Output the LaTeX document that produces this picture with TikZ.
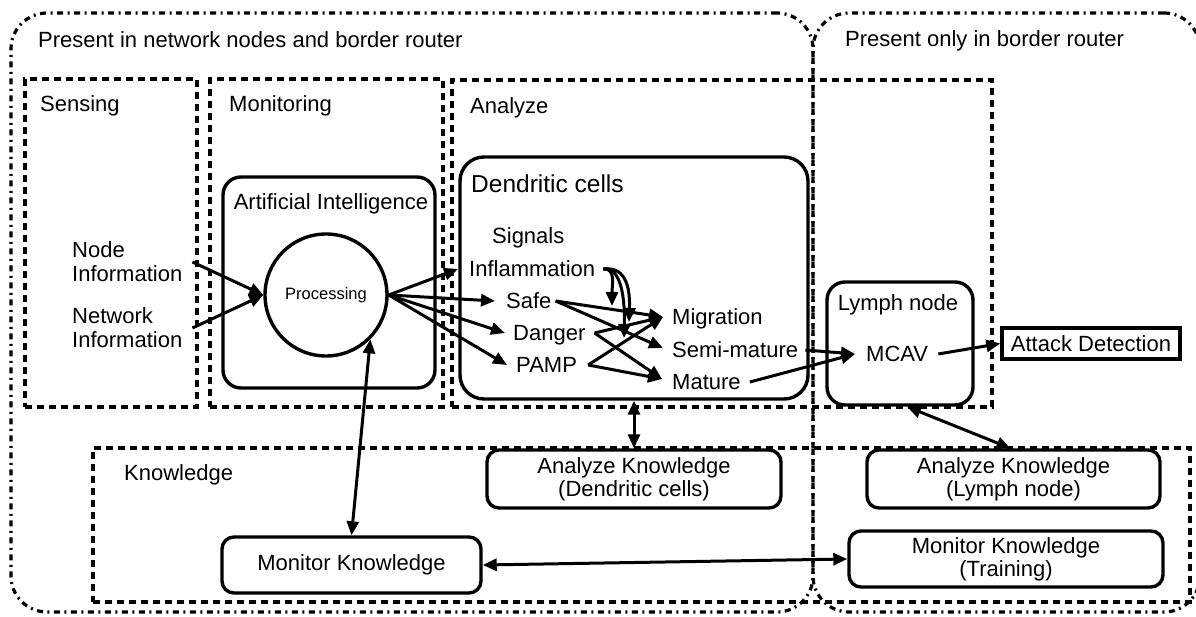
\documentclass[tikz,border=0pt]{standalone}
\usepackage{fontspec}
\setmainfont{Liberation Sans}
\usetikzlibrary{arrows.meta}
\newcommand\basefs{\fontsize{22}{24}\selectfont}
\newcommand\kfs{\fontsize{22}{23}\selectfont}
\begin{document}
\begin{tikzpicture}[x=1pt,y=-1pt,
  region/.style={draw, line width=3.2pt, dash pattern=on 6pt off 4.5pt on 2pt off 4.5pt, rounded corners=36pt, inner sep=0},
  dbox/.style={draw, line width=3.4pt, dash pattern=on 7pt off 5pt, inner sep=0},
  sbox/.style={draw, line width=3.4pt, rounded corners=18pt, inner sep=0},
  kbox/.style={draw, line width=3.4pt, rounded corners=12pt, align=center, inner sep=0, font=\kfs},
  lab/.style={inner sep=0, font=\basefs, text height=15.8pt, text depth=0pt},
  mlab/.style={inner sep=0, font=\basefs, align=left},
  arr/.style={line width=3pt, -{Triangle[length=14pt,width=12pt]}},
  darr/.style={line width=3pt, {Triangle[length=14pt,width=12pt]}-{Triangle[length=14pt,width=12pt]}},
]
\path[use as bounding box] (0,0) rectangle (1196,617);
% regions
\node[region, minimum width=802pt, minimum height=599pt] (reg1) at (412,312.5) {};
\node[region, minimum width=387pt, minimum height=599pt] (reg2) at (1006.5,312.5) {};
\node[lab, anchor=west] (reg1lab) at (38,40) {Present in network nodes and border router};
\node[lab, anchor=west] (reg2lab) at (845,39) {Present only in border router};
% dashed boxes
\node[dbox, minimum width=172pt, minimum height=328pt] (sens) at (111,243) {};
\node[dbox, minimum width=233pt, minimum height=328pt] (moni) at (326.5,243) {};
\node[dbox, minimum width=540pt, minimum height=327pt] (anal) at (722,243.5) {};
\node[dbox, minimum width=1097pt, minimum height=154pt] (know) at (641.5,525) {};
\node[lab, anchor=west] (senslab) at (40,104) {Sensing};
\node[lab, anchor=west] (monilab) at (229,104) {Monitoring};
\node[lab, anchor=west] (anallab) at (470,106) {Analyze};
\node[lab, anchor=west] (knowlab) at (124,473) {Knowledge};
% sensing
\node[mlab, anchor=west] (ninfo) at (72,262) {Node\\Information};
\node[mlab, anchor=west] (netinfo) at (72,328) {Network\\Information};
% monitoring
\node[sbox, minimum width=212pt, minimum height=211pt] (ai) at (329,282.5) {};
\node[lab] (ailab) at (331,202) {Artificial Intelligence};
\node[draw, circle, line width=3.4pt, minimum size=122pt, inner sep=0, font=\fontsize{16.5}{18}\selectfont] (proc) at (326,295) {Processing};
% dendritic cells
\node[sbox, rounded corners=24pt, minimum width=348pt, minimum height=242pt] (dc) at (634,278) {};
\node[lab, anchor=west, font=\fontsize{24.5}{26}\selectfont, text height=17.5pt] (dclab) at (471,184) {Dendritic cells};
\node[lab, anchor=west] (sig) at (492,236) {Signals};
\node[lab, anchor=west] (infl) at (469,269) {Inflammation};
\node[lab, anchor=west] (safe) at (506,301) {Safe};
\node[lab, anchor=west] (danger) at (513,333) {Danger};
\node[lab, anchor=west] (pamp) at (516,365) {PAMP};
\node[lab, anchor=west] (mig) at (672,317) {Migration};
\node[lab, anchor=west] (semi) at (672,350) {Semi-mature};
\node[lab, anchor=west] (mature) at (672,382) {Mature};
% lymph node
\node[sbox, minimum width=146pt, minimum height=123pt] (lymph) at (900,343.5) {};
\node[lab] (lymphlab) at (898,303) {Lymph node};
\node[lab, anchor=west] (mcav) at (866,354) {MCAV};
\node[draw, line width=3.4pt, minimum width=178pt, minimum height=31pt, inner sep=0, font=\basefs] (attack) at (1091,343.5) {Attack Detection};
% knowledge
\node[kbox, minimum width=294pt, minimum height=58pt] (akdc) at (634,479) {\vphantom{Ag}Analyze Knowledge\\(Dendritic cells)};
\node[kbox, minimum width=293pt, minimum height=58pt] (akln) at (1013.5,479) {\vphantom{Ag}Analyze Knowledge\\(Lymph node)};
\node[kbox, minimum width=314pt, minimum height=56pt] (mkt) at (1006,559) {Monitor Knowledge\\(Training)};
\node[kbox, minimum width=259pt, minimum height=56pt] (mk) at (351.5,565) {Monitor Knowledge};
% connectors
\draw[arr] ([xshift=10pt]ninfo.east) -- (proc.west);
\draw[arr] ([xshift=10pt]netinfo.east) -- (proc.west);
\draw[arr] (proc.east) -- ([xshift=-11pt]infl.west);
\draw[arr] (proc.east) -- ([xshift=-11pt]safe.west);
\draw[arr] (proc.east) -- ([xshift=-8pt]danger.west);
\draw[arr] (proc.east) -- ([xshift=-9pt]pamp.west);
\draw[arr] ([xshift=4pt]safe.east) -- ([xshift=-9pt]mig.west);
\draw[arr] ([xshift=4pt]safe.east) -- ([xshift=-9pt,yshift=2pt]semi.west);
\draw[arr] ([xshift=9pt]danger.east) -- ([xshift=-9pt]mig.west);
\draw[arr] ([xshift=9pt]danger.east) -- ([xshift=-10pt,yshift=3pt]mature.west);
\draw[arr] ([xshift=11pt]pamp.east) -- ([xshift=-9pt]mig.west);
\draw[arr] ([xshift=11pt]pamp.east) -- ([xshift=-10pt,yshift=3pt]mature.west);
\coordinate (i1) at (612,306);
\coordinate (i2) at (629,322);
\coordinate (i3) at (624,338);
\draw[arr] ([xshift=8pt]infl.east) .. controls (616,268) and (612,285) .. (i1);
\draw[arr] ([xshift=8pt]infl.east) .. controls (628,266) and (630,292) .. (i2);
\draw[arr] ([xshift=8pt]infl.east) .. controls (622,266) and (625,302) .. (i3);
\draw[arr] ([xshift=7pt]semi.east) -- ([xshift=-11pt]mcav.west);
\draw[arr] ([xshift=9pt]mature.east) -- ([xshift=-11pt]mcav.west);
\draw[arr] ([xshift=10pt]mcav.east) -- (attack.west);
\draw[darr] (dc.south) -- (akdc.north);
\draw[darr] (proc.-45) -- (mk.north);
\draw[darr] (mk.east) -- (mkt.west);
\draw[darr] ([xshift=7pt]lymph.south) -- ([xshift=-3pt]akln.north);
\end{tikzpicture}
\end{document}
